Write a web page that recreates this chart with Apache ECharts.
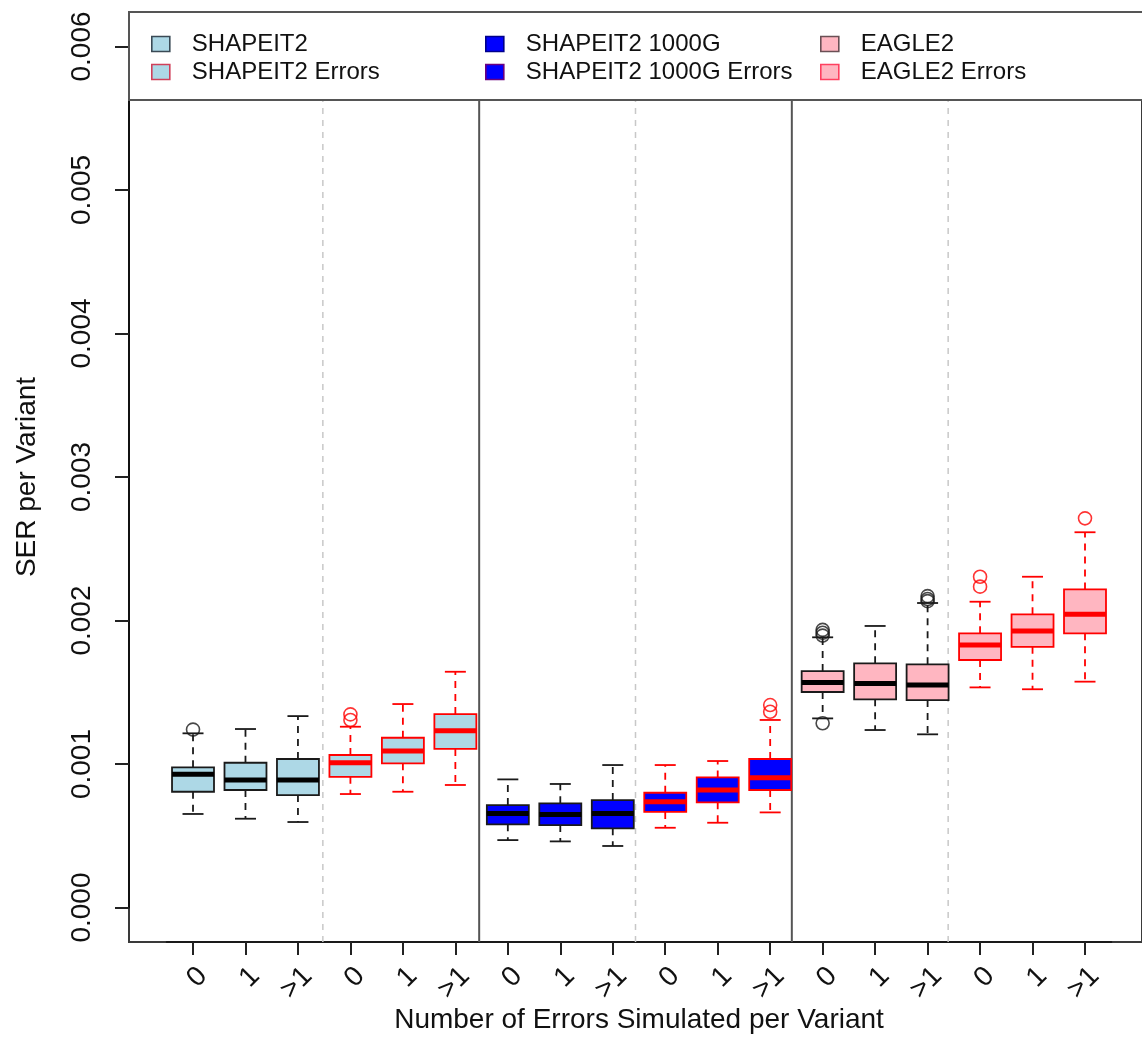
<!DOCTYPE html>
<html>
<head>
<meta charset="utf-8">
<script src="https://cdn.jsdelivr.net/npm/echarts@6/dist/echarts.min.js"></script>
<style>
  html, body { margin: 0; padding: 0; background: #ffffff; }
  #chart { width: 1142px; height: 1046px; }
</style>
</head>
<body>
<div id="chart"></div>
<script>
// ---- data -------------------------------------------------------------
const errorLevels = ['0', '1', '>1'];
const groupNames = ['SHAPEIT2', 'SHAPEIT2 Errors', 'SHAPEIT2 1000G',
                    'SHAPEIT2 1000G Errors', 'EAGLE2', 'EAGLE2 Errors'];
const yTicks = [0, 0.001, 0.002, 0.003, 0.004, 0.005, 0.006];

// five-number summaries: [lower whisker, Q1, median, Q3, upper whisker]
const shapeit2 = [
  [0.000652, 0.000807, 0.000928, 0.000977, 0.001214],
  [0.000619, 0.000819, 0.000889, 0.001009, 0.001244],
  [0.000596, 0.000784, 0.000889, 0.001035, 0.001334]
];
const shapeit2Errors = [
  [0.000791, 0.000911, 0.001009, 0.001063, 0.001260],
  [0.000807, 0.001005, 0.001091, 0.001183, 0.001418],
  [0.000854, 0.001105, 0.001232, 0.001348, 0.001643]
];
const shapeit21000G = [
  [0.000470, 0.000580, 0.000656, 0.000714, 0.000893],
  [0.000461, 0.000575, 0.000649, 0.000726, 0.000861],
  [0.000429, 0.000552, 0.000656, 0.000749, 0.000993]
];
const shapeit21000GErrors = [
  [0.000556, 0.000666, 0.000737, 0.000800, 0.000993],
  [0.000591, 0.000733, 0.000819, 0.000907, 0.001021],
  [0.000663, 0.000819, 0.000905, 0.001035, 0.001307]
];
const eagle2 = [
  [0.001318, 0.001502, 0.001569, 0.001648, 0.001883],
  [0.001237, 0.001451, 0.001562, 0.001702, 0.001962],
  [0.001207, 0.001446, 0.001551, 0.001695, 0.002122]
];
const eagle2Errors = [
  [0.001534, 0.001725, 0.001829, 0.001911, 0.002131],
  [0.001521, 0.001817, 0.001927, 0.002043, 0.002305],
  [0.001574, 0.001911, 0.002043, 0.002217, 0.002615]
];

// outliers: [error level index, value]
const shapeit2Out = [[0, 0.001240]];
const shapeit2ErrorsOut = [[0, 0.001346], [0, 0.001307]];
const shapeit21000GOut = [];
const shapeit21000GErrorsOut = [[2, 0.001411], [2, 0.001364]];
const eagle2Out = [[0, 0.001935], [0, 0.001915], [0, 0.001895], [0, 0.001284],
                   [2, 0.002170], [2, 0.002150], [2, 0.002135]];
const eagle2ErrorsOut = [[0, 0.002305], [0, 0.002236], [2, 0.002712]];

// ---- styling ----------------------------------------------------------
const FONT = 'Liberation Sans, Arial, sans-serif';
const LIGHTBLUE = '#ADD8E6', BLUE = '#0000FF', PINK = '#FFB6C1';
const DARK = '#1a1a1a', RED = '#FF0000';

const groups = [
  { stats: shapeit2,            out: shapeit2Out,            fill: LIGHTBLUE, edge: DARK, median: '#000' },
  { stats: shapeit2Errors,      out: shapeit2ErrorsOut,      fill: LIGHTBLUE, edge: RED,  median: RED },
  { stats: shapeit21000G,       out: shapeit21000GOut,       fill: BLUE,      edge: DARK, median: '#000' },
  { stats: shapeit21000GErrors, out: shapeit21000GErrorsOut, fill: BLUE,      edge: RED,  median: RED },
  { stats: eagle2,              out: eagle2Out,              fill: PINK,      edge: DARK, median: '#000' },
  { stats: eagle2Errors,        out: eagle2ErrorsOut,        fill: PINK,      edge: RED,  median: RED }
];
const legendEdge = ['#3a4a55', '#d0405a', '#00008b', '#6a0080', '#6a5055', '#ff4060'];

const categories = [];
groupNames.forEach(() => errorLevels.forEach(l => categories.push(l)));
const nLevels = errorLevels.length;
const nCat = categories.length;

// ---- layout (R-style box with 4% padding around the data range) -------
const FRAME_L = 129, FRAME_T = 12, FRAME_B = 942;
const UNIT = 52.47;                          // px per box slot
const padX = 0.04 * nCat;                    // slots of padding on each side
const frameW = (nCat + 2 * padX) * UNIT;
const yMin = yTicks[0], yMax = yTicks[yTicks.length - 1];
const padY = 0.04 * (yMax - yMin);
const pxPerY = (FRAME_B - FRAME_T) / (yMax - yMin + 2 * padY);
const dataL = FRAME_L + padX * UNIT;
const dataT = FRAME_T + padY * pxPerY;
const dataH = (yMax - yMin) * pxPerY;
const LEGEND_H = 88;

function boxRenderer(g) {
  return function (params, api) {
    const xi = api.value(0);
    const v = [1, 2, 3, 4, 5].map(i => api.value(i));
    const band = api.size([1, 0])[0];
    const bw = band * 0.8, cw = bw * 0.5;
    const cx = api.coord([xi, v[2]])[0];
    const py = val => api.coord([xi, val])[1];
    const dash = { stroke: g.edge, lineWidth: 1.8, lineDash: [7, 6], fill: null };
    const solid = { stroke: g.edge, lineWidth: 1.8, fill: null };
    return {
      type: 'group',
      children: [
        { type: 'line', shape: { x1: cx, y1: py(v[3]), x2: cx, y2: py(v[4]) }, style: dash },
        { type: 'line', shape: { x1: cx, y1: py(v[1]), x2: cx, y2: py(v[0]) }, style: dash },
        { type: 'line', shape: { x1: cx - cw / 2, y1: py(v[4]), x2: cx + cw / 2, y2: py(v[4]) }, style: solid },
        { type: 'line', shape: { x1: cx - cw / 2, y1: py(v[0]), x2: cx + cw / 2, y2: py(v[0]) }, style: solid },
        { type: 'rect', shape: { x: cx - bw / 2, y: py(v[3]), width: bw, height: py(v[1]) - py(v[3]) },
          style: { fill: g.fill, stroke: g.edge, lineWidth: 1.8 } },
        { type: 'line', shape: { x1: cx - bw / 2, y1: py(v[2]), x2: cx + bw / 2, y2: py(v[2]) },
          style: { stroke: g.median, lineWidth: 5 } }
      ]
    };
  };
}

const series = [];
// group separators, drawn in the frame coordinate system (slot i sits at i + 1)
const separators = [];
for (let k = 1; k < groupNames.length; k++) separators.push([k * nLevels + 0.5, k % 2 === 0 ? 1 : 0]);
series.push({
  type: 'custom', name: 'separators', xAxisIndex: 0, yAxisIndex: 0, silent: true, z: 1,
  data: separators,
  renderItem: function (params, api) {
    const x = api.coord([api.value(0), 0])[0];
    const cs = params.coordSys;
    const solidLine = api.value(1) === 1;
    return {
      type: 'line',
      shape: { x1: x, y1: cs.y, x2: x, y2: cs.y + cs.height },
      style: solidLine ? { stroke: '#555', lineWidth: 2 }
                       : { stroke: '#c8c8c8', lineWidth: 1.5, lineDash: [6, 6] }
    };
  }
});

groups.forEach((g, gi) => {
  series.push({
    type: 'custom', name: groupNames[gi], xAxisIndex: 1, yAxisIndex: 1, silent: true, z: 2,
    itemStyle: { color: g.fill, borderColor: g.edge },
    encode: { x: 0, y: [1, 2, 3, 4, 5] },
    data: g.stats.map((s, i) => [gi * nLevels + i].concat(s)),
    renderItem: boxRenderer(g)
  });
  series.push({
    type: 'scatter', name: groupNames[gi] + ' outliers', xAxisIndex: 1, yAxisIndex: 1, silent: true, z: 3,
    symbol: 'circle', symbolSize: 13,
    itemStyle: { color: 'rgba(0,0,0,0)', borderColor: g.edge, borderWidth: 1.6 },
    data: g.out.map(o => [gi * nLevels + o[0], o[1]])
  });
});

const legendLefts = [151, 485, 820];
const legends = [0, 1, 2].map(c => ({
  orient: 'vertical', left: legendLefts[c], top: 32, z: 6, padding: 0,
  itemWidth: 18, itemHeight: 15, itemGap: 4, icon: 'rect', selectedMode: false,
  textStyle: { fontFamily: FONT, fontSize: 24, color: '#111', lineHeight: 24, padding: [0, 0, 0, 17] },
  data: [2 * c, 2 * c + 1].map(i => ({
    name: groupNames[i],
    itemStyle: { color: groups[i].fill, borderColor: legendEdge[i], borderWidth: 1.6 }
  }))
}));

const option = {
  animation: false,
  backgroundColor: '#ffffff',
  grid: [
    { left: FRAME_L, top: FRAME_T, width: frameW, height: FRAME_B - FRAME_T,
      show: true, borderColor: '#3a3a3a', borderWidth: 2, backgroundColor: 'transparent' },
    { left: dataL, top: dataT, width: nCat * UNIT, height: dataH }
  ],
  xAxis: [
    { gridIndex: 0, type: 'value', min: -padX + 0.5, max: nCat + padX + 0.5, show: false },
    { gridIndex: 1, type: 'category', data: categories, boundaryGap: true,
      offset: FRAME_B - (dataT + dataH),
      axisLine: { show: true, onZero: false, lineStyle: { color: '#1a1a1a', width: 2 } },
      axisTick: { show: true, interval: 0, alignWithLabel: true, length: 13, lineStyle: { color: '#222', width: 2 } },
      axisLabel: { interval: 0, rotate: 45, margin: 20, verticalAlign: 'top',
                   fontFamily: FONT, fontSize: 28, color: '#111' },
      name: 'Number of Errors Simulated per Variant', nameLocation: 'middle', nameGap: 64,
      nameMoveOverlap: false,
      nameTextStyle: { fontFamily: FONT, fontSize: 28, color: '#111' } }
  ],
  yAxis: [
    { gridIndex: 0, type: 'value', min: yMin - padY, max: yMax + padY, show: false },
    { gridIndex: 1, type: 'value', min: yMin, max: yMax, interval: yTicks[1] - yTicks[0],
      offset: dataL - FRAME_L,
      splitLine: { show: false },
      axisLine: { show: true, onZero: false, lineStyle: { color: '#111', width: 2 } },
      axisTick: { show: true, length: 14, lineStyle: { color: '#222', width: 2 } },
      axisLabel: { rotate: 90, margin: 33, fontFamily: FONT, fontSize: 28, color: '#111',
                   formatter: v => v.toFixed(3) },
      name: 'SER per Variant', nameLocation: 'middle', nameRotate: 90, nameGap: 88,
      nameTextStyle: { fontFamily: FONT, fontSize: 28, color: '#111' } }
  ],
  legend: legends,
  graphic: [{
    type: 'rect', z: 5, silent: true,
    shape: { x: FRAME_L, y: FRAME_T, width: frameW, height: LEGEND_H },
    style: { fill: '#ffffff', stroke: '#555', lineWidth: 2 }
  }],
  series: series
};

const chart = echarts.init(document.getElementById('chart'), null, { renderer: 'canvas' });
chart.setOption(option);
</script>
</body>
</html>
